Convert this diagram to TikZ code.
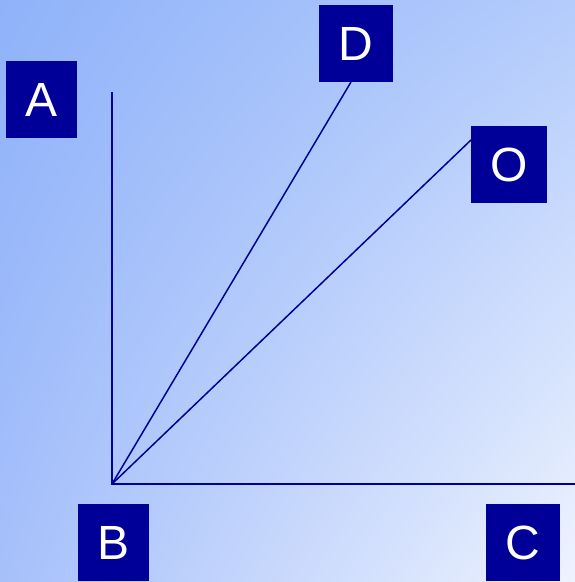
\documentclass[tikz,border=0pt]{standalone}
\usepackage{fontspec}
\setmainfont{Liberation Sans}
\usetikzlibrary{shadings}
\definecolor{boxblue}{HTML}{000099}
\definecolor{bgul}{HTML}{8FB2F9}
\definecolor{bgur}{HTML}{B4CCFC}
\definecolor{bgll}{HTML}{A6C0FB}
\definecolor{bglr}{HTML}{EEF3FE}
\begin{document}
\begin{tikzpicture}[x=1pt,y=-1pt,
  lbl/.style={fill=boxblue,text=white,inner sep=0pt,minimum height=77pt,
    font=\fontsize{48}{48}\selectfont},
  ray/.style={draw=boxblue,line width=1.5pt}]
\shade[upper left=bgul,upper right=bgur,lower left=bgll,lower right=bglr]
  (0,0) rectangle (575,582);
\useasboundingbox (0,0) rectangle (575,582);
\node[lbl,minimum width=71pt] (A) at (41.5,99.5) {A};
\node[lbl,minimum width=71pt] (B) at (113.5,542.5) {B};
\node[lbl,minimum width=74pt] (D) at (356,43.5) {D};
\node[lbl,minimum width=76pt] (O) at (509,164.5) {O};
\node[lbl,minimum width=74pt] (C) at (523,542.5) {C};
\coordinate (vtx) at (112,484);
\coordinate (atop) at (112,92);
\coordinate (cend) at (575,484);
\coordinate (dend) at (351,82);
\coordinate (oend) at (471,140);
\draw[ray] (atop) -- (vtx) -- (cend);
\draw[ray] (vtx) -- (dend);
\draw[ray] (vtx) -- (oend);
\end{tikzpicture}
\end{document}
